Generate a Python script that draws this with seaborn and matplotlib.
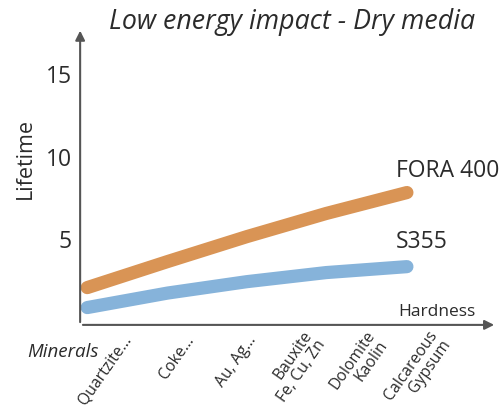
import matplotlib
matplotlib.use("Agg")
import matplotlib.pyplot as plt
import seaborn as sns
import pandas as pd

# data
hardness = [0.17, 2.1, 4.0, 5.9, 7.84]
fora400 = [2.06, 3.64, 5.15, 6.55, 7.82]
s355 = [0.85, 1.73, 2.42, 2.97, 3.33]

mineral_pos = [1.15, 2.65, 4.15, 5.65, 7.15, 8.65]
minerals = ["Quartzite...", "Coke...", "Au, Ag...", "Bauxite\nFe, Cu, Zn",
            "Dolomite\nKaolin", "Calcareous\nGypsum"]
y_ticks = [5, 10, 15]

df = pd.concat([
    pd.DataFrame({"Hardness": hardness, "Lifetime": fora400, "model": "FORA 400"}),
    pd.DataFrame({"Hardness": hardness, "Lifetime": s355, "model": "S355"}),
])

sns.set_style("white")
plt.rcParams["font.family"] = ["Open Sans", "DejaVu Sans"]
txt = "#2b2b2b"
axc = "#555555"

fig = plt.figure(figsize=(5.04, 4.16), dpi=100)
ax = fig.add_axes([0.159, 0.219, 0.827, 0.714])

sns.lineplot(data=df, x="Hardness", y="Lifetime", hue="model",
             palette={"FORA 400": "#d99455", "S355": "#86b3da"},
             linewidth=9.5, solid_capstyle="round", solid_joinstyle="round",
             legend=False, ax=ax, sort=False)

ax.set_xlim(0, 10)
ax.set_ylim(-0.2, 17.8)
for s in ax.spines.values():
    s.set_visible(False)

# axes with arrow heads
ax.annotate("", xy=(1, 0), xytext=(0, 0), xycoords="axes fraction",
            arrowprops=dict(arrowstyle="-|>", color=axc, lw=1.5, mutation_scale=14))
ax.annotate("", xy=(0, 1), xytext=(0, 0), xycoords="axes fraction",
            arrowprops=dict(arrowstyle="-|>", color=axc, lw=1.5, mutation_scale=14))

ax.set_yticks(y_ticks)
ax.set_yticklabels([str(v) for v in y_ticks], fontsize=16.5, color=txt)
ax.tick_params(axis="y", length=0, pad=6)

ax.set_xticks(mineral_pos)
ax.set_xticklabels(minerals, rotation=55, ha="right", va="center",
                   rotation_mode="anchor", fontsize=11.3, color=txt, linespacing=1.0)
ax.tick_params(axis="x", length=0, pad=9)

ax.set_xlabel("")
ax.set_ylabel("")
fig.text(0.05, 0.62, "Lifetime", rotation=90, ha="center", va="center",
         fontsize=15.5, color=txt)
fig.text(0.79, 0.25, "Hardness", ha="left", va="center", fontsize=12.5, color=txt)
fig.text(0.054, 0.154, "Minerals", ha="left", va="center", fontsize=13.5,
         style="italic", color=txt)
fig.text(0.58, 0.948, "Low energy impact - Dry media", ha="center", va="center",
         fontsize=19.3, style="italic", color=txt)

ax.text(7.58, 9.1, "FORA 400", fontsize=16.5, color=txt, va="center", ha="left")
ax.text(7.58, 4.8, "S355", fontsize=16.5, color=txt, va="center", ha="left")

fig.savefig("out.png", dpi=100)
